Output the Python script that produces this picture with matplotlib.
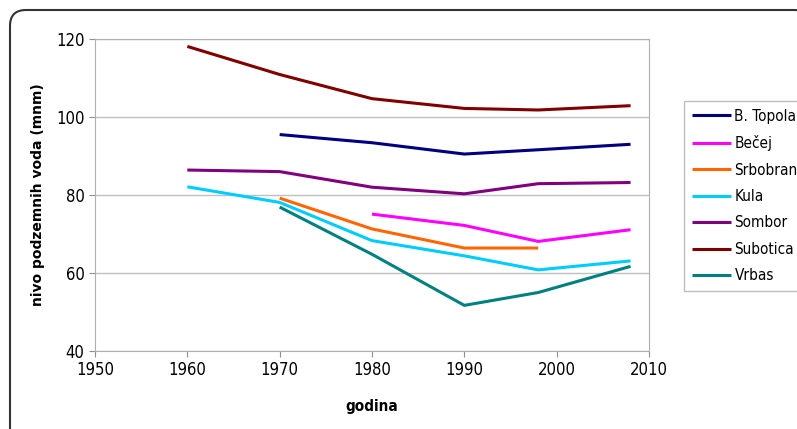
import matplotlib.pyplot as plt
from matplotlib.patches import FancyBboxPatch

# --- Data ---
years = [1960, 1970, 1980, 1990, 1998, 2008]

b_topola = [None, 95.5, 93.4, 90.5, 91.6, 93.0]
becej = [None, None, 75.1, 72.2, 68.1, 71.1]
srbobran = [None, 79.2, 71.3, 66.4, 66.4, None]
kula = [82.1, 78.1, 68.3, 64.4, 60.8, 63.1]
sombor = [86.4, 86.0, 82.0, 80.3, 82.9, 83.2]
subotica = [118.1, 110.9, 104.7, 102.2, 101.8, 102.9]
vrbas = [None, 76.9, 64.8, 51.7, 55.0, 61.7]

series = [
    ("B. Topola", b_topola, "#000080"),
    ("Bečej", becej, "#FF00FF"),
    ("Srbobran", srbobran, "#FF6600"),
    ("Kula", kula, "#00CCFF"),
    ("Sombor", sombor, "#800080"),
    ("Subotica", subotica, "#800000"),
    ("Vrbas", vrbas, "#008080"),
]

plt.rcParams['font.family'] = ['DejaVu Sans']
plt.rcParams['font.stretch'] = 'condensed'

W, H = 797, 429
fig = plt.figure(figsize=(W / 100, H / 100), dpi=100)

# rounded outer frame (runs off the right/bottom edge like the original)
frame = FancyBboxPatch((10 / W, -20 / H), 800 / W, (H - 10 + 20) / H,
                       boxstyle="round,pad=0,rounding_size=0.02",
                       transform=fig.transFigure, facecolor='white',
                       edgecolor='#333333', linewidth=1.5, zorder=-5,
                       mutation_aspect=W / H)
fig.patches.append(frame)

# plot area: left 95, right 649, top 39, bottom 351 (pixels)
ax = fig.add_axes([95 / W, 1 - 351 / H, (649 - 95) / W, (351 - 39) / H])
ax.set_zorder(2)
ax.set_facecolor('white')

for name, vals, color in series:
    xs = [x for x, v in zip(years, vals) if v is not None]
    ys = [v for v in vals if v is not None]
    ax.plot(xs, ys, color=color, linewidth=2.2, label=name, solid_capstyle='butt')

ax.set_xlim(1950, 2010)
ax.set_ylim(40, 120)
ax.set_xticks(range(1950, 2011, 10))
ax.set_yticks(range(40, 121, 20))
ax.yaxis.grid(True, color='#c0c0c0', linewidth=1)
ax.set_axisbelow(True)
for s in ax.spines.values():
    s.set_color('#b0b0b0')
ax.tick_params(colors='black', labelsize=12, length=4, color='#909090')

ax.set_xlabel("godina", fontsize=11, fontweight='bold', labelpad=14)
ax.set_ylabel("nivo podzemnih voda (mnm)", fontsize=10, fontweight='bold',
              labelpad=8, fontstretch='normal')

leg = fig.legend(loc='upper left', bbox_to_anchor=(684 / W, 1 - 101 / H),
                 frameon=True, fancybox=False, fontsize=11, handlelength=2.6,
                 handletextpad=0.2, labelspacing=0.75, borderpad=0.5,
                 borderaxespad=0)
leg.set_zorder(3)
leg.get_frame().set_edgecolor('#b0b0b0')
leg.get_frame().set_linewidth(1)

fig.savefig("out.png", dpi=100)
